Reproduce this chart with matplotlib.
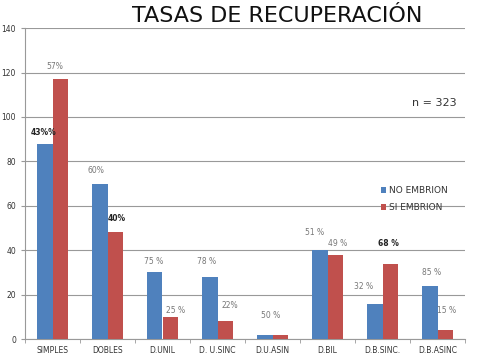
import matplotlib.pyplot as plt
import numpy as np

categorias = ["SIMPLES", "DOBLES", "D.UNIL", "D. U.SINC", "D.U.ASIN",
              "D.BIL", "D.B.SINC.", "D.B.ASINC"]
no_embrion = [88, 70, 30, 28, 2, 40, 16, 24]
si_embrion = [117, 48, 10, 8, 2, 38, 34, 4]

# etiquetas de porcentaje (texto, x, y, negrita)
etiquetas = ["43%%", "57%", "60%", "40%", "75 %", "25 %", "78 %", "22%",
             "50 %", "51 %", "49 %", "32 %", "68 %", "85 %", "15 %"]
etiq_x = [-0.17, 0.05, 0.79, 1.17, 1.83, 2.23, 2.81, 3.23,
          3.97, 4.77, 5.19, 5.65, 6.1, 6.9, 7.17]
etiq_y = [93, 122.5, 76, 54.5, 35, 13, 35, 15,
          10.5, 48, 43, 23.5, 43, 30, 13]
negrita = [True, False, False, True, False, False, False, False,
           False, False, False, False, True, False, False]

azul = "#4F81BD"
rojo = "#C0504D"

fig = plt.figure(figsize=(5, 3.6), dpi=100)
ax = fig.add_axes([0.05, 0.058, 0.88, 0.864])

x = np.arange(len(categorias))
w = 0.28
ax.bar(x - w / 2, no_embrion, w, color=azul, label="NO EMBRION", zorder=3)
ax.bar(x + w / 2, si_embrion, w, color=rojo, label="SI EMBRION", zorder=3)

for t, xx, yy, b in zip(etiquetas, etiq_x, etiq_y, negrita):
    ax.text(xx, yy, t, ha="center", va="center", fontsize=5.5,
            color="#222222" if b else "#777777",
            fontweight="bold" if b else "normal")

ax.set_xlim(-0.5, len(categorias) - 0.5)
ax.set_ylim(0, 140)
ax.set_yticks(np.arange(0, 141, 20))
ax.set_xticks(x)
ax.set_xticklabels(categorias)
ax.set_xticks(np.arange(-0.5, len(categorias), 1), minor=True)
ax.tick_params(axis="x", which="major", length=0, labelsize=5.5,
               labelcolor="#333333", pad=5)
ax.tick_params(axis="x", which="minor", length=3, color="#999999")
ax.tick_params(axis="y", labelsize=5.5, labelcolor="#333333",
               length=3, color="#999999")
ax.yaxis.grid(True, color="#999999", lw=0.8, zorder=0)
for s in ["top", "right"]:
    ax.spines[s].set_visible(False)
ax.spines["left"].set_color("#999999")
ax.spines["bottom"].set_color("#999999")

fig.text(0.555, 0.94, "TASAS DE RECUPERACIÓN", ha="center", va="baseline",
         fontsize=16, color="#111111")
ax.text(0.98, 0.76, "n = 323", transform=ax.transAxes, ha="right",
        va="center", fontsize=8, color="#333333")

fig.legend(loc="upper left", bbox_to_anchor=(0.745, 0.505), frameon=False,
           fontsize=6.5, handlelength=0.6, handleheight=0.6,
           handletextpad=0.3, labelspacing=0.9, labelcolor="#333333")

fig.savefig("out.png", dpi=100)
